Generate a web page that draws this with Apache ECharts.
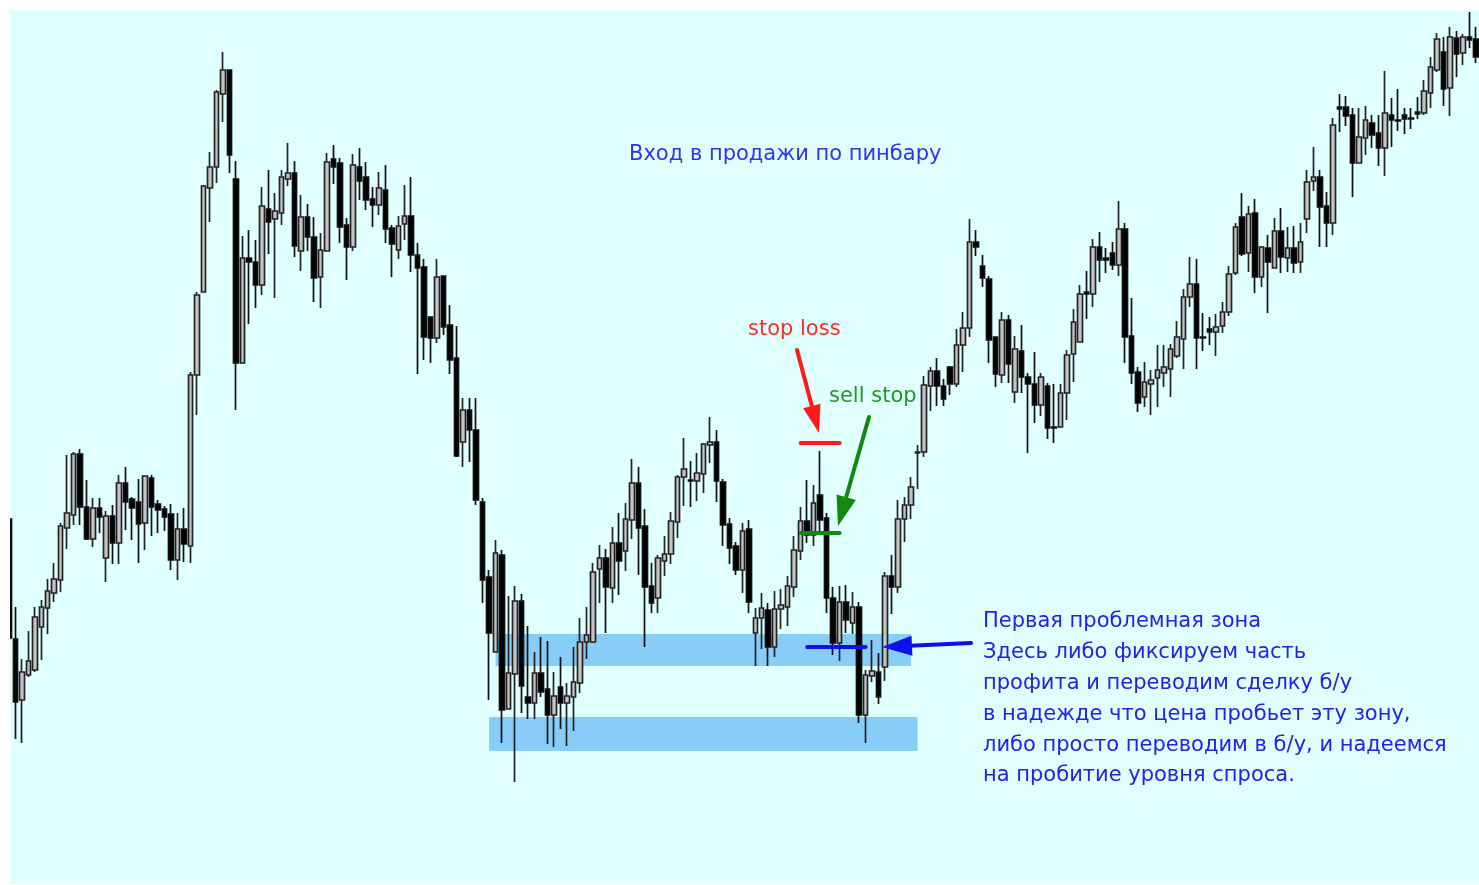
<!DOCTYPE html>
<html><head><meta charset="utf-8">
<script src="https://cdn.jsdelivr.net/npm/echarts@6/dist/echarts.min.js"></script>
<style>html,body{margin:0;padding:0;background:#fff;}#c{width:1479px;height:885px;}</style>
</head><body><div id="c"></div>
<script>
// Candles: [open, close, high(top), low(bottom)] in chart price units (axis inverted)
const candles = [
[519,638,519,638],[639,702,607,739],[700,672,659,743],[675,661,631,677],[670,617,607,672],
[627,607,600,660],[608,591,579,634],[593,579,563,602],[580,526,523,592],[528,513,455,549],
[515,454,452,525],[454,507,449,525],[507,539,480,540],[539,508,498,547],[508,517,498,533],
[558,516,511,582],[516,543,505,564],[543,483,475,564],[483,502,467,530],[499,508,497,540],
[502,524,479,563],[523,476,476,550],[478,507,475,536],[504,510,500,533],[509,517,506,531],
[514,560,504,570],[560,529,513,580],[529,544,508,562],[546,375,372,563],[375,295,292,415],
[292,186,185,292],[188,167,152,222],[167,92,90,183],[94,70,52,122],[70,155,70,173],
[179,363,161,410],[363,258,236,363],[258,262,230,324],[262,285,240,308],[285,206,187,295],
[209,222,170,254],[219,211,193,298],[213,177,170,225],[179,173,143,186],[173,246,161,257],
[251,217,195,271],[217,237,204,251],[237,278,217,302],[277,250,233,308],[251,162,153,251],
[159,167,145,184],[163,227,158,243],[225,247,218,280],[247,165,154,251],[167,181,148,200],
[177,200,162,210],[199,205,187,227],[205,188,172,215],[190,229,165,243],[228,244,225,277],
[250,226,216,259],[224,216,185,240],[216,255,177,272],[255,268,243,374],[267,337,259,360],
[317,338,317,363],[338,277,259,343],[276,327,276,335],[325,360,305,374],[358,456,326,457],
[442,410,398,467],[410,430,398,462],[430,500,398,505],[502,580,498,603],[577,633,570,700],
[652,553,540,652],[555,710,550,743],[709,673,596,709],[674,601,586,782],[601,686,594,713],
[697,703,626,719],[703,673,652,719],[673,692,637,697],[689,715,641,744],[715,696,672,747],
[687,703,657,729],[703,696,683,746],[697,682,647,731],[683,642,618,693],[642,635,607,659],
[642,572,563,643],[569,558,545,603],[558,587,549,633],[588,543,527,603],[543,561,513,595],
[551,519,503,571],[520,483,459,539],[483,528,467,575],[526,587,509,647],[586,603,563,613],
[598,558,555,613],[561,554,536,576],[554,521,512,564],[522,477,475,538],[477,469,438,506],
[480,481,461,507],[481,473,453,501],[474,444,443,493],[445,442,417,463],[442,481,430,502],
[482,525,479,546],[524,548,518,564],[546,570,542,575],[570,531,523,593],[529,602,520,613],
[633,618,608,666],[618,608,593,649],[610,647,603,666],[647,609,591,657],[609,605,589,629],
[607,586,576,626],[587,550,536,597],[551,521,507,560],[521,535,480,543],[535,503,485,546],
[495,520,451,535],[518,598,513,613],[598,643,587,655],[643,602,586,661],[602,620,585,633],
[623,607,592,634],[607,715,602,723],[715,675,670,743],[676,671,640,682],[672,697,653,704],
[667,576,572,681],[576,587,555,614],[587,519,500,593],[519,505,497,542],[505,487,477,519],
[453,452,445,489],[452,385,376,457],[386,371,367,411],[371,386,358,406],[386,399,379,406],
[367,384,366,395],[384,345,329,387],[345,328,312,372],[328,242,219,337],[242,247,230,256],
[266,278,255,287],[279,340,276,363],[337,374,337,387],[375,320,312,383],[320,364,315,383],
[392,349,336,403],[351,377,325,393],[377,384,373,453],[384,405,352,423],[405,377,373,416],
[386,428,383,439],[427,428,384,443],[427,393,384,427],[393,355,350,420],[354,322,309,382],
[342,294,285,342],[292,294,271,319],[294,247,239,307],[247,260,232,282],[258,260,248,273],
[253,265,242,270],[265,229,201,276],[229,337,223,363],[336,373,298,384],[372,403,367,412],
[397,382,362,407],[384,380,370,415],[378,370,345,407],[373,367,345,387],[369,349,344,397],
[356,337,321,358],[339,297,289,369],[297,284,257,307],[284,338,259,369],[337,338,313,351],
[329,332,317,345],[332,327,314,356],[326,312,302,333],[312,274,266,316],[273,227,223,275],
[217,254,193,256],[253,214,206,272],[213,277,199,293],[277,247,246,287],[248,262,235,313],
[268,231,218,268],[231,257,208,273],[258,248,227,272],[248,263,226,273],[262,242,223,273],
[219,182,170,233],[181,177,147,191],[177,207,170,247],[206,223,192,247],[223,125,118,235],
[107,109,94,132],[107,116,96,126],[115,163,108,197],[163,137,108,163],[138,120,106,155],
[123,135,115,148],[133,148,115,166],[148,113,71,176],[115,120,98,147],[120,121,89,131],
[115,119,108,134],[118,119,108,129],[112,114,97,119],[113,91,80,115],[93,67,57,108],
[70,39,33,72],[52,89,37,106],[88,37,27,116],[38,54,31,77],[53,37,34,65],
[37,40,12,48],[39,57,27,63]
];
const categories = candles.map((_, i) => String(i));
// Zones: [fromIndex, toIndex, topPrice, bottomPrice]
const zones = [[75,139,634,666],[74,140,717,751]];
// Levels: [fromIndex, toIndex, price]
const stopLossLevel = [122,128,443];
const sellStopLevel = [122,128,533];
const targetLevel = [123,132,647];

const titleText = 'Вход в продажи по пинбару';
const stopLossText = 'stop loss';
const sellStopText = 'sell stop';
const noteLines = [
 'Первая проблемная зона',
 'Здесь либо фиксируем часть',
 'профита и переводим сделку б/у',
 'в надежде что цена пробьет эту зону,',
 'либо просто переводим в б/у, и надеемся',
 'на пробитие уровня спроса.'
];

const FONT = '"DejaVu Sans", Verdana, sans-serif';
function arrow(x1,y1,x2,y2,color,w,hl,hw){
  const dx=x2-x1, dy=y2-y1, len=Math.hypot(dx,dy), ux=dx/len, uy=dy/len;
  const bx=x2-ux*hl, by=y2-uy*hl, px=-uy, py=ux;
  return [
    {type:'line', z:50, shape:{x1:x1,y1:y1,x2:bx+ux*2,y2:by+uy*2}, style:{stroke:color,lineWidth:w,lineCap:'round'}},
    {type:'polygon', z:50, shape:{points:[[x2,y2],[bx+px*hw,by+py*hw],[bx-px*hw,by-py*hw]]}, style:{fill:color}}
  ];
}
function txt(s,x,y,color){
  return {type:'text', z:50, style:{text:s, x:x, y:y, fill:color, fontSize:21, fontFamily:FONT, verticalAlign:'middle'}};
}

const chart = echarts.init(document.getElementById('c'), null, {renderer:'canvas'});
const graphics = [
  {type:'rect', z:100, shape:{x:0,y:0,width:10,height:885}, style:{fill:'#ffffff'}},
  {type:'rect', z:100, shape:{x:0,y:0,width:1479,height:10}, style:{fill:'#ffffff'}},
  {type:'rect', z:100, shape:{x:0,y:884,width:1479,height:1}, style:{fill:'#ffffff'}},
  txt(titleText, 629, 155, '#3333ee'),
  txt(stopLossText, 748, 330, '#ff2a2a'),
  txt(sellStopText, 829, 397, '#1f9a1f'),
  ...noteLines.map((s,i)=>txt(s, 983, 622 + i*30.8, '#2222ee')),
  ...arrow(797,350,819,433,'#ff1a1a',4,28,9),
  ...arrow(869,417,838,526,'#0f8a0f',4,30,10),
  ...arrow(971,643,882,647,'#1010ee',4,30,10)
];

const option = {
  animation:false,
  backgroundColor:'#e0ffff',
  grid:{left:5.55, top:0, width:227*6.492, height:885, containLabel:false},
  xAxis:{type:'category', data:categories, show:false, boundaryGap:true},
  yAxis:{type:'value', inverse:true, min:0, max:885, show:false},
  series:[
    {type:'line', data:[], z:1, silent:true,
     markArea:{silent:true, itemStyle:{color:'#88cdf8', opacity:1},
       data: zones.map(z=>[{coord:[z[0], z[2]]},{coord:[z[1], z[3]]}])}},
    {type:'candlestick', z:3, data:candles.map(c=>[c[0],c[1],c[2],c[3]]), barWidth:5,
     itemStyle:{color:'#000000', color0:'#c4c4c4', borderColor:'#111111', borderColor0:'#222222', borderWidth:1.7}},
    {type:'line', data:[], z:5, silent:true,
     markLine:{silent:true, symbol:['none','none'], label:{show:false},
       data:[
         [{coord:[stopLossLevel[0],stopLossLevel[2]], lineStyle:{color:'#ff1a1a',width:4,type:'solid',cap:'round'}},{coord:[stopLossLevel[1],stopLossLevel[2]]}],
         [{coord:[sellStopLevel[0],sellStopLevel[2]], lineStyle:{color:'#0f8a0f',width:4,type:'solid',cap:'round'}},{coord:[sellStopLevel[1],sellStopLevel[2]]}],
         [{coord:[targetLevel[0],targetLevel[2]], lineStyle:{color:'#1010ee',width:4,type:'solid',cap:'round'}},{coord:[targetLevel[1],targetLevel[2]]}]
       ]}}
  ],
  graphic: graphics
};
chart.setOption(option);
</script></body></html>
